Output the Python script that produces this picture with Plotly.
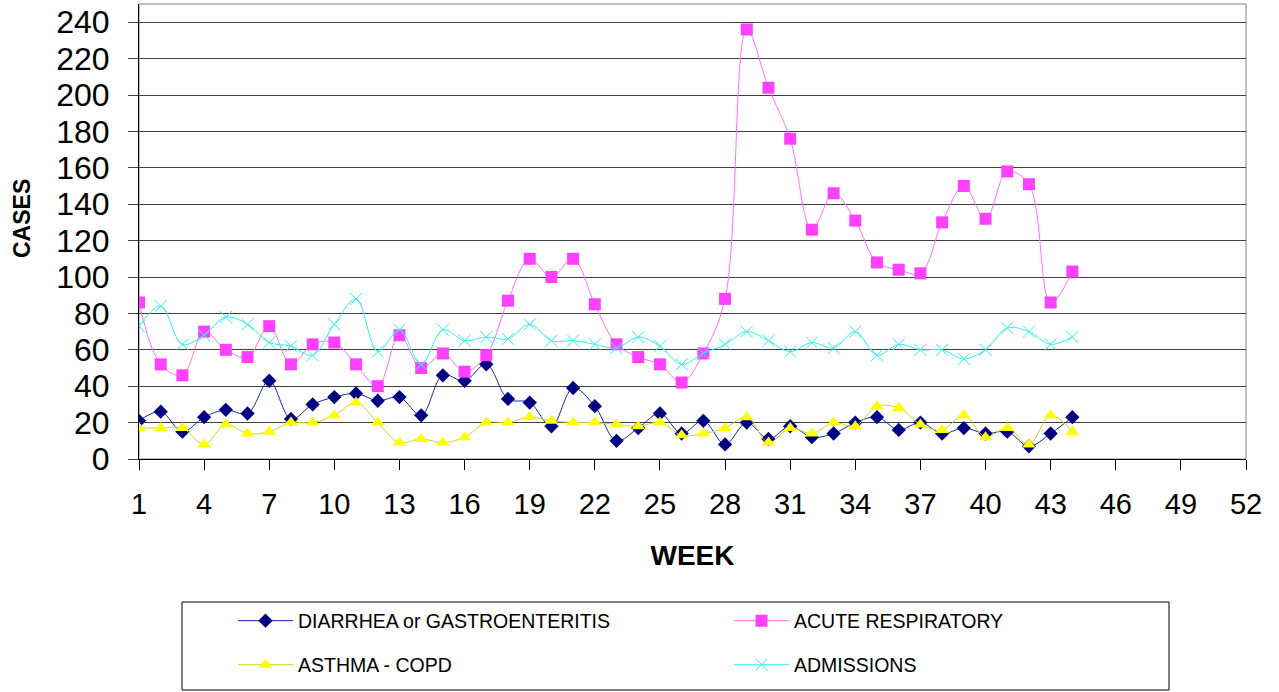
import plotly.graph_objects as go

# weekly case counts
weeks = list(range(1, 45))
diarrhea = [21, 26, 15, 23, 27, 25, 43, 22, 30, 34,
            36, 32, 34, 24, 46, 43, 52, 33, 31, 18,
            39, 29, 10, 17, 25, 14, 21, 8, 20, 11,
            18, 12, 14, 20, 23, 16, 20, 14, 17, 14,
            15, 7, 14, 23]
acute_resp = [86, 52, 46, 70, 60, 56, 73, 52, 63, 64,
              52, 40, 68, 50, 58, 48, 57, 87, 110, 100,
              110, 85, 63, 56, 52, 42, 58, 88, 236, 204,
              176, 126, 146, 131, 108, 104, 102, 130, 150, 132,
              158, 151, 86, 103]
asthma = [17, 17, 17, 8, 19, 14, 15, 20, 20, 24,
          31, 20, 9, 11, 9, 12, 20, 20, 23, 21,
          20, 20, 19, 18, 20, 13, 14, 17, 23, 9,
          17, 14, 20, 18, 29, 28, 19, 16, 24, 12,
          17, 8, 24, 15]
admissions = [73, 84, 63, 68, 78, 74, 64, 62, 57, 74,
              88, 59, 71, 52, 71, 65, 67, 66, 74, 65,
              65, 63, 61, 67, 62, 52, 58, 63, 70, 65,
              59, 64, 61, 70, 57, 63, 60, 60, 55, 60,
              72, 70, 63, 67]

x_ticks = list(range(1, 53, 3))
y_ticks = list(range(0, 241, 20))

W, H = 1279, 692
# plot area in pixels
L, R, T, B = 139, 1246, 4, 459
FONT = "Liberation Sans, Arial, sans-serif"


def px_x(p):
    return (p - L) / (R - L)


def px_y(p):
    return (B - p) / (B - T)


fig = go.Figure()

fig.add_trace(go.Scatter(
    x=weeks, y=diarrhea, name="DIARRHEA or GASTROENTERITIS", legend="legend",
    mode="lines+markers", line=dict(color="#1a2a9a", width=1, shape="spline", smoothing=1),
    marker=dict(symbol="diamond", size=11, color="#000080")))
fig.add_trace(go.Scatter(
    x=weeks, y=acute_resp, name="ACUTE RESPIRATORY", legend="legend2",
    mode="lines+markers", line=dict(color="#ff70ff", width=1, shape="spline", smoothing=1),
    marker=dict(symbol="square", size=12, color="#ff40ff")))
fig.add_trace(go.Scatter(
    x=weeks, y=asthma, name="ASTHMA - COPD", legend="legend3",
    mode="lines+markers", line=dict(color="#c4d820", width=1, shape="spline", smoothing=1),
    marker=dict(symbol="triangle-up", size=12, color="#ffff00")))
fig.add_trace(go.Scatter(
    x=weeks, y=admissions, name="ADMISSIONS", legend="legend4",
    mode="lines+markers", line=dict(color="#30f0f0", width=1, shape="spline", smoothing=1),
    marker=dict(symbol="x-thin", size=12, color="#30f0f0",
                line=dict(color="#30f0f0", width=1))))

# legend frame
fig.add_shape(type="rect", xref="paper", yref="paper",
              x0=px_x(182), x1=px_x(1169), y0=px_y(690), y1=px_y(602),
              line=dict(color="black", width=1), fillcolor="white", layer="below")
# plot area frame (top/right are grey)
fig.add_shape(type="rect", xref="paper", yref="paper", x0=0, x1=1, y0=0, y1=1,
              line=dict(color="#808080", width=1), layer="below")

# y axis title, placed by hand like in the original
fig.add_annotation(text="<b>CASES</b>", xref="paper", yref="paper",
                   x=px_x(22), y=px_y(219), xanchor="center", yanchor="middle",
                   textangle=-90, showarrow=False,
                   font=dict(family=FONT, size=23, color="black"))

leg = dict(orientation="v", xanchor="left", yanchor="middle", bgcolor="rgba(0,0,0,0)",
           borderwidth=0, itemwidth=55, font=dict(family=FONT, size=19.5, color="black"))

fig.update_layout(
    width=W, height=H,
    margin=dict(l=L, r=W - R, t=T, b=H - B),
    paper_bgcolor="white", plot_bgcolor="white",
    font=dict(family=FONT, color="black"),
    showlegend=True,
    legend=dict(leg, x=px_x(233), y=px_y(621)),
    legend2=dict(leg, x=px_x(729), y=px_y(621)),
    legend3=dict(leg, x=px_x(233), y=px_y(665)),
    legend4=dict(leg, x=px_x(729), y=px_y(665)),
    xaxis=dict(
        range=[1, 52], tickvals=x_ticks, showgrid=False, zeroline=False,
        showline=True, linecolor="black", linewidth=1, automargin=False,
        ticks="outside", ticklen=10, tickcolor="black", ticklabelstandoff=9,
        tickfont=dict(family=FONT, size=29),
        title=dict(text="<b>WEEK</b>", font=dict(family=FONT, size=28), standoff=26)),
    yaxis=dict(
        range=[0, 250], tickvals=y_ticks, showgrid=True, gridcolor="#404040", gridwidth=1,
        zeroline=False, showline=True, linecolor="black", linewidth=1, automargin=False,
        ticks="outside", ticklen=10, tickcolor="#404040", ticklabelstandoff=12,
        ticklabeloverflow="allow", tickfont=dict(family=FONT, size=32)),
)

# drop the default body margin so the figure fills the window exactly
fig.write_html("out.html", config={"displayModeBar": False},
               post_script="document.body.style.margin = '0';")
